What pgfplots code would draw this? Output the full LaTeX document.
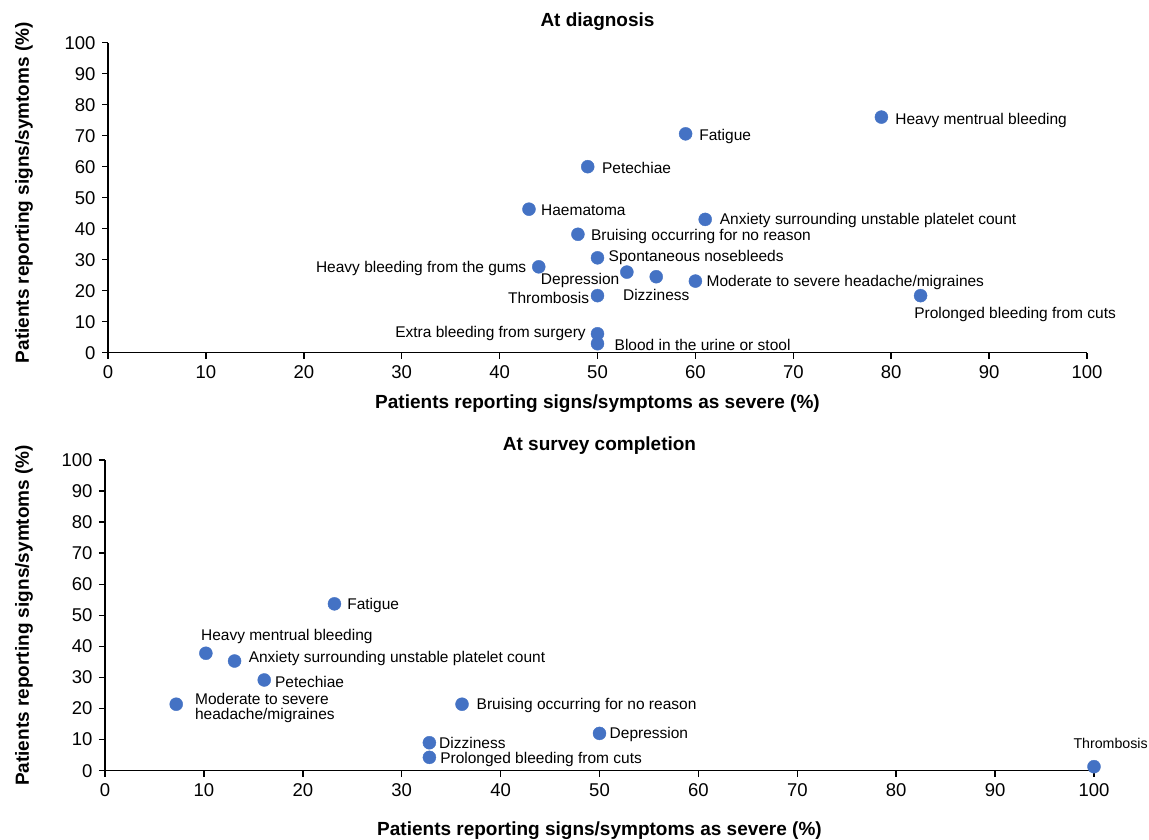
\documentclass[border=0pt]{standalone}
\usepackage{fontspec}
\setmainfont{Liberation Sans}
\usepackage{pgfplots}
\pgfplotsset{compat=1.18}
\definecolor{dot}{HTML}{4472C4}

\pgfplotstableread{
x y
79 76.0
59 70.6
49 60.0
43 46.3
61 43.0
48 38.2
50 30.6
44 27.7
53 26.0
56 24.5
60 23.1
50 18.4
83 18.4
50 6.1
50 2.9
}\diag

\pgfplotstableread{
x y
23.2 53.7
10.2 37.8
13.1 35.3
16.1 29.2
7.2 21.4
36.1 21.4
50.0 12.0
32.8 9.0
32.8 4.3
100 1.3
}\surv

\newcommand{\lab}[5]{\node[anchor=#1,xshift=#2pt,yshift=#3pt-1.5pt,inner sep=0pt,font=\fontsize{15.5}{15}\selectfont,align=left] at (axis cs:#4) {#5};}

\pgfplotsset{
  myax/.style={
    scale only axis,
    xmin=0,xmax=100,ymin=0,ymax=100,
    axis x line*=bottom, axis y line*=left,
    axis line style={line width=1.5pt,-},
    xtick={0,10,...,100}, ytick={0,10,...,100},
    tick align=outside, major tick length=6pt,
    every tick/.style={black,line width=1.5pt},
    tick label style={font=\fontsize{18.5}{20}\selectfont},
    yticklabel style={xshift=-3pt},
    xticklabel style={yshift=-3pt},
    /pgf/number format/assume math mode=true,
    clip=false,
    label style={font=\bfseries\fontsize{19}{21}\selectfont},
    title style={font=\bfseries\fontsize{19}{21}\selectfont},
  }
}

\begin{document}
\begin{tikzpicture}
\useasboundingbox (0,0) rectangle (1149pt,840pt);

\begin{axis}[myax,
  at={(108pt,487.3pt)}, anchor=south west,
  width=979pt, height=310pt,
  title={At diagnosis},
  title style={at={(axis description cs:0.5,1.048)},anchor=center},
  xlabel={Patients reporting signs/symptoms as severe (\%)},
  xlabel style={at={(axis description cs:0.5,-0.1645)},anchor=center},
  ylabel={Patients reporting signs/symtoms (\%)},
  ylabel style={at={(axis description cs:-0.0858,0.516)},anchor=center},
]
\addplot[only marks, mark=*, mark size=6.5pt, color=dot] table {\diag};
\lab{west}{13.8}{-2}{79,76.0}{Heavy mentrual bleeding}
\lab{west}{13.5}{-1.3}{59,70.6}{Fatigue}
\lab{west}{14.2}{0}{49,60.0}{Petechiae}
\lab{west}{12}{0}{43,46.3}{Haematoma}
\lab{west}{14.5}{0}{61,43.0}{Anxiety surrounding unstable platelet count}
\lab{west}{13}{-1}{48,38.2}{Bruising occurring for no reason}
\lab{west}{11}{2}{50,30.6}{Spontaneous nosebleeds}
\lab{east}{-12.3}{0}{44,27.7}{Heavy bleeding from the gums}
\lab{east}{-7.3}{-6.7}{53,26.0}{Depression}
\lab{center}{0}{-16.7}{56,24.5}{Dizziness}
\lab{west}{11}{0}{60,23.1}{Moderate to severe headache/migraines}
\lab{east}{-8.2}{-1}{50,18.4}{Thrombosis}
\lab{west}{-6.5}{-17}{83,18.4}{Prolonged bleeding from cuts}
\lab{east}{-11.6}{1.4}{50,6.1}{Extra bleeding from surgery}
\lab{west}{17}{0}{50,2.9}{Blood in the urine or stool}
\end{axis}

\begin{axis}[myax,
  at={(105pt,69.3pt)}, anchor=south west,
  width=989pt, height=310.7pt,
  title={At survey completion},
  title style={at={(axis description cs:0.5,1.026)},anchor=center},
  xlabel={Patients reporting signs/symptoms as severe (\%)},
  xlabel style={at={(axis description cs:0.5,-0.1915)},anchor=center},
  ylabel={Patients reporting signs/symtoms (\%)},
  ylabel style={at={(axis description cs:-0.0819,0.5)},anchor=center},
]
\addplot[only marks, mark=*, mark size=6.5pt, color=dot] table {\surv};
\lab{west}{12.7}{0}{23.2,53.7}{Fatigue}
\lab{west}{-5}{18.3}{10.2,37.8}{Heavy mentrual bleeding}
\lab{west}{14}{4}{13.1,35.3}{Anxiety surrounding unstable platelet count}
\lab{west}{10.7}{0}{16.1,29.2}{Petechiae}
\lab{west}{18.7}{-2.5}{7.2,21.4}{Moderate to severe\\headache/migraines}
\lab{west}{14.5}{0}{36.1,21.4}{Bruising occurring for no reason}
\lab{west}{10}{0}{50.0,12.0}{Depression}
\lab{west}{9.6}{1}{32.8,9.0}{Dizziness}
\lab{west}{10.7}{-1}{32.8,4.3}{Prolonged bleeding from cuts}
\node[anchor=center,xshift=16.6pt,yshift=23pt,inner sep=0pt,font=\fontsize{14.2}{15}\selectfont] at (axis cs:100,1.3) {Thrombosis};
\end{axis}
\end{tikzpicture}
\end{document}
